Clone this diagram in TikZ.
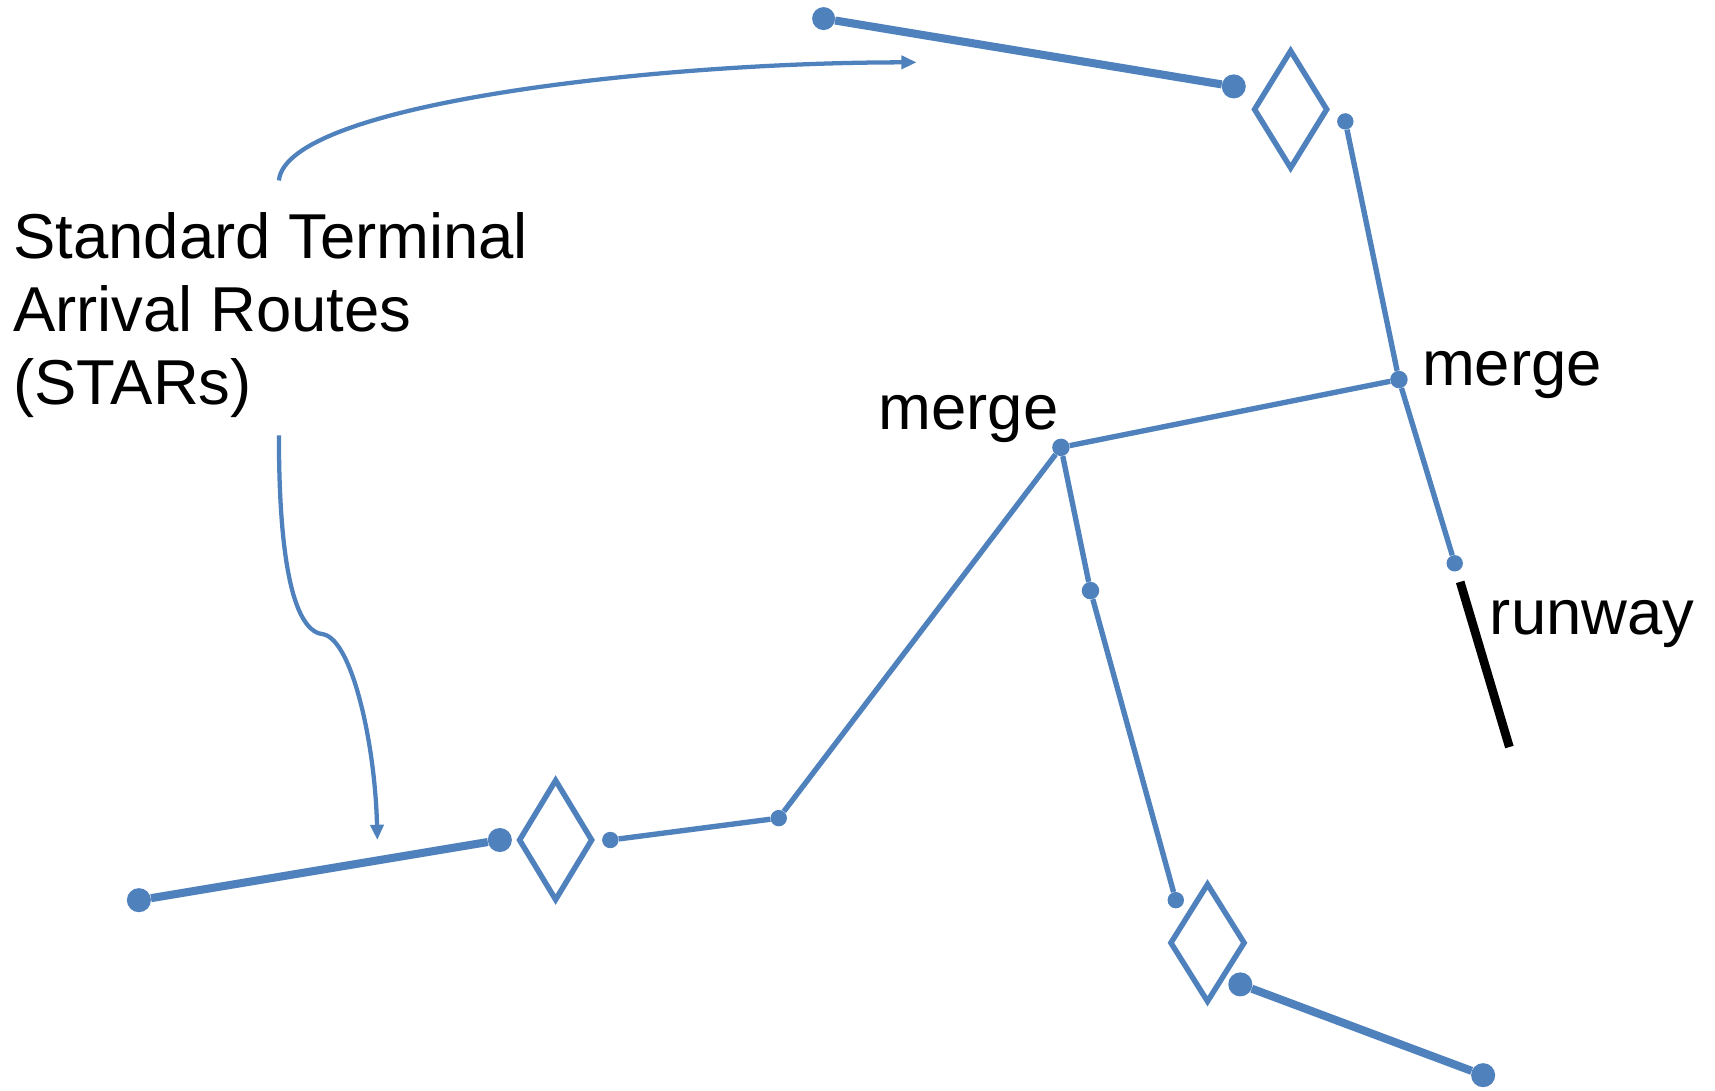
\documentclass[tikz,border=0pt]{standalone}
\usepackage{fontspec}
\setmainfont{Liberation Sans}
\usetikzlibrary{shapes.geometric,arrows.meta}
\definecolor{routeblue}{RGB}{79,129,189}
\begin{document}
\begin{tikzpicture}[x=1pt,y=-1pt,
  bigdot/.style={circle,fill=routeblue,inner sep=0pt,minimum size=22pt},
  smalldot/.style={circle,fill=routeblue,inner sep=0pt,minimum size=15pt},
  thickroute/.style={draw=routeblue,line width=7.4pt},
  thinroute/.style={draw=routeblue,line width=4.9pt},
  fix/.style={diamond,draw=routeblue,line width=5pt,inner sep=0pt,minimum width=68pt,minimum height=109pt},
  note/.style={draw=routeblue,line width=3.9pt,-{Triangle[length=14pt,width=12pt]}},
  lbl/.style={font=\fontsize{58}{67}\selectfont,inner sep=0pt,anchor=base west}]
\useasboundingbox (0,0) rectangle (1568,997);
% nodes
\node[bigdot,minimum size=21pt] (t1) at (753,17) {};
\node[bigdot] (t2) at (1128,79) {};
\node[fix] (D1) at (1180,100) {};
\node[smalldot] (s1) at (1230,111) {};
\node[smalldot,minimum size=16pt] (m1) at (1279,347) {};
\node[smalldot] (s2) at (1330,515) {};
\node[smalldot,minimum size=16pt] (m2) at (970,409) {};
\node[smalldot,minimum size=16pt] (s3) at (997,540) {};
\node[smalldot] (s4) at (1075,823) {};
\node[fix,minimum width=69pt] (D3) at (1104,862) {};
\node[bigdot] (b1) at (1134,900) {};
\node[bigdot] (b2) at (1356,983) {};
\node[smalldot] (s5) at (712,748) {};
\node[smalldot] (s6) at (558,768) {};
\node[fix,minimum height=111pt] (D2) at (508,768) {};
\node[bigdot] (b3) at (457,768) {};
\node[bigdot] (b4) at (127,823) {};
\coordinate (r1) at (1335,532);
\coordinate (r2) at (1380,683);
\coordinate (n1) at (255,165);
\coordinate (n2) at (838,57);
\coordinate (n3) at (255,398);
\coordinate (n4) at (296,580);
\coordinate (n5) at (345,768);
% labels
\node[lbl] (title) at (12,236) {Standard Terminal};
\node[lbl] (title2) at (12,303) {Arrival Routes};
\node[lbl] (title3) at (12,370) {(STARs)};
\node[lbl] (lm1) at (1300,352) {merge};
\node[lbl] (lm2) at (803,393) {merge};
\node[lbl] (lrw) at (1362,580) {runway};
% routes
\draw[thickroute] (t1) -- (t2);
\draw[thinroute] (s1) -- (m1) -- (s2);
\draw[thinroute] (m1) -- (m2);
\draw[thinroute] (m2) -- (s3) -- (s4);
\draw[thinroute] (m2) -- (s5) -- (s6);
\draw[thickroute] (b1) -- (b2);
\draw[thickroute] (b3) -- (b4);
\draw[line width=8pt,black] (r1) -- (r2);
% annotation arrows
\draw[note] (n1) .. controls (262,95) and (600,57) .. (n2);
\draw[note] (n3) .. controls (255,520) and (270,578) .. (n4) .. controls (322,586) and (343,680) .. (n5);
\end{tikzpicture}
\end{document}
